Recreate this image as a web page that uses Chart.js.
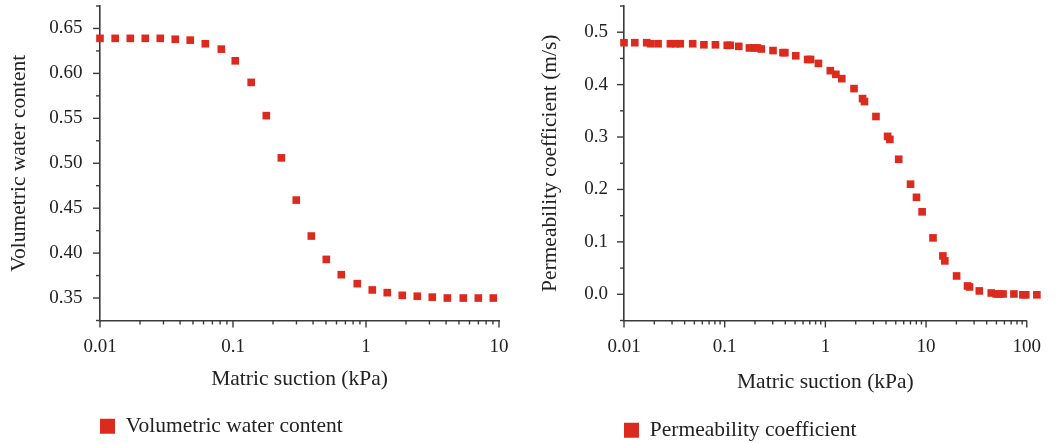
<!DOCTYPE html>
<html>
<head>
<meta charset="utf-8">
<script src="https://cdn.jsdelivr.net/npm/chart.js@4.4.1/dist/chart.umd.min.js"></script>
<style>
  html, body { margin: 0; padding: 0; background: #fff; overflow: hidden; }
  .panel { position: absolute; top: 0; }
  #left { left: 0; }
  #right { left: 528px; }
</style>
</head>
<body>
<div class="panel" id="left"><canvas id="vwcChart" width="528" height="452"></canvas></div>
<div class="panel" id="right"><canvas id="permChart" width="528" height="452"></canvas></div>
<script>
// left panel: volumetric water content vs matric suction
const vwcSuction = [0.0100, 0.0130, 0.0169, 0.0219, 0.0284, 0.0368, 0.0477, 0.0619, 0.0817, 0.104,
  0.137, 0.178, 0.231, 0.299, 0.388, 0.503, 0.652, 0.860, 1.115, 1.445, 1.874, 2.43, 3.15, 4.09,
  5.39, 6.99, 9.06];
const vwcValues = [0.639, 0.639, 0.639, 0.639, 0.639, 0.638, 0.637, 0.633, 0.627, 0.614,
  0.590, 0.553, 0.506, 0.459, 0.419, 0.393, 0.376, 0.366, 0.359, 0.356, 0.353, 0.352, 0.351, 0.350,
  0.350, 0.350, 0.350];

// right panel: permeability coefficient vs matric suction
const permSuction = [0.0100, 0.0128, 0.0168, 0.0184, 0.0218, 0.0289, 0.0324, 0.0362, 0.0481, 0.0622,
  0.0809, 0.106, 0.1135, 0.138, 0.176, 0.197, 0.211, 0.231, 0.302, 0.379,
  0.396, 0.508, 0.667, 0.713, 0.853, 1.119, 1.271, 1.455, 1.925, 2.34,
  2.445, 3.18, 4.15, 4.37, 5.35, 7.01, 8.03, 9.14, 11.72, 14.69,
  15.36, 20.1, 25.8, 27.0, 33.8, 44.4, 49.7, 53.1, 58.2, 74.6,
  91.5, 97.7, 126];
const permValues = [0.480, 0.480, 0.480, 0.478, 0.478, 0.478, 0.478, 0.478, 0.478, 0.476,
  0.476, 0.475, 0.475, 0.473, 0.470, 0.470, 0.470, 0.468, 0.465, 0.461,
  0.461, 0.455, 0.448, 0.448, 0.4405, 0.4266, 0.4196, 0.4114, 0.3924, 0.3734,
  0.3677, 0.3392, 0.3013, 0.2956, 0.2576, 0.2101, 0.185, 0.1573, 0.1076, 0.0732,
  0.0637, 0.035, 0.0159, 0.014, 0.0064, 0.0025, 0.0006, 0.0006, 0.0006, 0.0006,
  -0.001, -0.001, -0.001];

// tick labels
const vwcXTicks = [0.01, 0.1, 1, 10];
const vwcXLabels = ["0.01", "0.1", "1", "10"];
const vwcYTicks = [0.35, 0.40, 0.45, 0.50, 0.55, 0.60, 0.65];
const vwcYLabels = ["0.35", "0.40", "0.45", "0.50", "0.55", "0.60", "0.65"];
const permXTicks = [0.01, 0.1, 1, 10, 100];
const permXLabels = ["0.01", "0.1", "1", "10", "100"];
const permYTicks = [0.0, 0.1, 0.2, 0.3, 0.4, 0.5];
const permYLabels = ["0.0", "0.1", "0.2", "0.3", "0.4", "0.5"];

const RED = "#dc2b1e";
const AXIS = "#3a3a3a";
const TEXT = "#222222";
const FONT = "'Liberation Serif', 'Times New Roman', serif";

function labelFor(value, ticks, labels) {
  const i = ticks.findIndex(t => Math.abs(t - value) < Math.abs(t) * 1e-6 + 1e-9);
  return i < 0 ? "" : labels[i];
}

// major / minor tick marks pointing out of the axes
const tickMarks = {
  id: "tickMarks",
  afterDraw(chart) {
    const { ctx, chartArea } = chart;
    const xs = chart.scales.x, ys = chart.scales.y;
    ctx.save();
    ctx.strokeStyle = AXIS;
    ctx.lineWidth = 1.4;
    xs.ticks.forEach(t => {
      const px = xs.getPixelForValue(t.value);
      const len = t.label !== "" ? 7 : 4;
      ctx.beginPath();
      ctx.moveTo(px, chartArea.bottom);
      ctx.lineTo(px, chartArea.bottom + len);
      ctx.stroke();
    });
    ys.ticks.forEach(t => {
      const py = ys.getPixelForValue(t.value);
      const len = t.label !== "" ? 7 : 4;
      ctx.beginPath();
      ctx.moveTo(chartArea.left, py);
      ctx.lineTo(chartArea.left - len, py);
      ctx.stroke();
    });
    ctx.restore();
  }
};

// points past the end of the x axis are skipped by Chart.js; draw those elements too
const overflowPoints = {
  id: "overflowPoints",
  afterDatasetsDraw(chart) {
    const area = chart.chartArea;
    const whole = { left: 0, top: 0, right: chart.width, bottom: chart.height };
    chart.getDatasetMeta(0).data.forEach(el => {
      if (el.x > area.right + 3) el.draw(chart.ctx, whole);
    });
  }
};

function makeChart(id, o) {
  return new Chart(document.getElementById(id), {
    type: "scatter",
    data: {
      datasets: [{
        label: o.label,
        data: o.xs.map((x, i) => ({ x: x, y: o.ys[i] })),
        backgroundColor: RED,
        borderWidth: 0,
        pointStyle: "rect",
        pointRadius: 5.4,
        pointHoverRadius: 5.4,
        clip: false
      }]
    },
    options: {
      responsive: false,
      animation: false,
      layout: { padding: { left: 0, right: o.padRight, top: 6, bottom: o.padBottom } },
      plugins: {
        tooltip: { enabled: false },
        legend: {
          position: "bottom",
          align: "start",
          fullSize: false,
          labels: {
            boxWidth: 15, boxHeight: 15, padding: 0,
            color: TEXT, font: { family: FONT, size: 21.5 }
          }
        }
      },
      scales: {
        x: {
          type: "logarithmic",
          // range set after data limits so points past the axis end are kept
          afterDataLimits: s => { s.min = o.xMin; s.max = o.xMax; },
          afterBuildTicks: s => {
            s.ticks = s.ticks.filter(t => {
              const m = t.value / Math.pow(10, Math.floor(Math.log10(t.value) + 1e-9));
              return Math.abs(m - 1.5) > 1e-6;
            });
          },
          afterFit: s => { s.height = o.xAxisHeight; },
          grid: { display: false, drawTicks: false },
          border: { display: true, color: AXIS, width: 1.6 },
          ticks: {
            autoSkip: false, maxRotation: 0, padding: 15,
            color: TEXT, font: { family: FONT, size: 19 },
            callback: v => labelFor(v, o.xTicks, o.xLabels)
          },
          title: {
            display: true, text: "Matric suction (kPa)", color: TEXT,
            font: { family: FONT, size: 21.5 }, padding: { bottom: o.xTitlePad }
          }
        },
        y: {
          min: o.yMin, max: o.yMax,
          ticks: {
            stepSize: o.yMinorStep, autoSkip: false, padding: o.yLabelPad,
            color: TEXT, font: { family: FONT, size: 19 },
            callback: v => labelFor(v, o.yTicks, o.yLabels)
          },
          afterFit: s => { s.width = o.yAxisWidth; s.paddingTop = 0; s.paddingBottom = 0; },
          grid: { display: false, drawTicks: false },
          border: { display: true, color: AXIS, width: 1.6 },
          title: {
            display: true, text: o.yTitle, color: TEXT,
            font: { family: FONT, size: 21.5 }, padding: { top: o.yTitlePad }
          }
        }
      }
    },
    plugins: [tickMarks, overflowPoints]
  });
}

makeChart("vwcChart", {
  label: "Volumetric water content",
  xs: vwcSuction, ys: vwcValues,
  xMin: 0.01, xMax: 10, yMin: 0.325, yMax: 0.675, yMinorStep: 0.025,
  xTicks: vwcXTicks, xLabels: vwcXLabels, yTicks: vwcYTicks, yLabels: vwcYLabels,
  yTitle: "Volumetric water content",
  yAxisWidth: 100, padRight: 29, padBottom: 5, xAxisHeight: 95,
  yLabelPad: 17.5, yTitlePad: 6, xTitlePad: 23
});

makeChart("permChart", {
  label: "Permeability coefficient",
  xs: permSuction, ys: permValues,
  xMin: 0.01, xMax: 100, yMin: -0.05, yMax: 0.55, yMinorStep: 0.05,
  xTicks: permXTicks, xLabels: permXLabels, yTicks: permYTicks, yLabels: permYLabels,
  yTitle: "Permeability coefficient (m/s)",
  yAxisWidth: 96, padRight: 24, padBottom: 1, xAxisHeight: 99,
  yLabelPad: 16, yTitlePad: 9, xTitlePad: 24
});
</script>
</body>
</html>
